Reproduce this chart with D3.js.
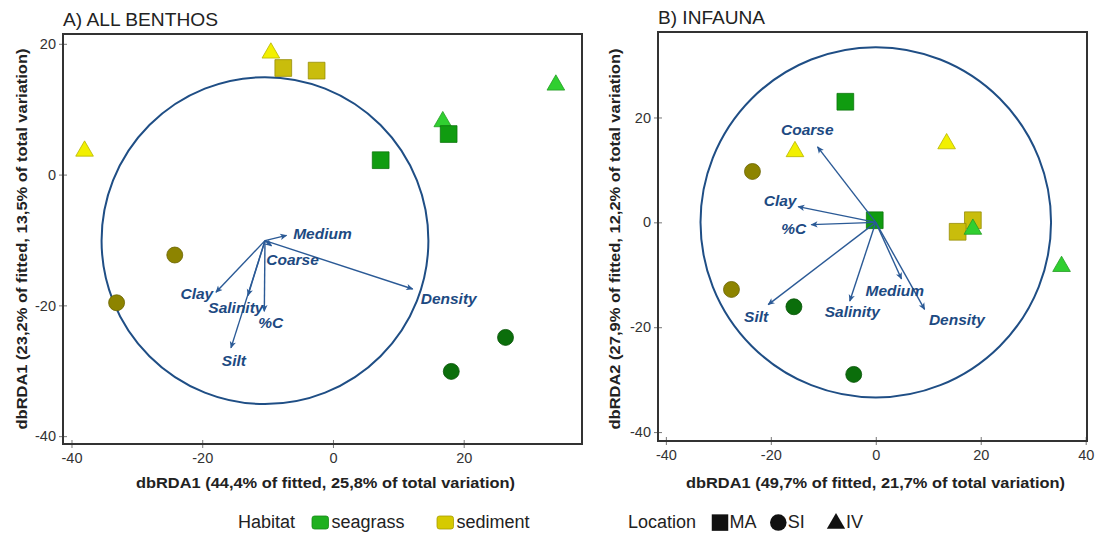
<!DOCTYPE html>
<html>
  <head>
    <meta charset="utf-8">
    <style type="text/css">
      body { margin:0; background:#fff; }
      text { font-family:"Liberation Sans",Arial,Helvetica,sans-serif; }
      .tick line { stroke:#777; stroke-width:1px; }
      .tick text { fill:#333; font-size:14.5px; font-family:"Liberation Sans",Arial,sans-serif; }
      .box { fill:none; stroke:#333; stroke-width:2px; }
      .corr { fill:none; stroke:#1f4e85; stroke-width:2px; }
      .vec { stroke:#2b5a96; stroke-width:1.4px; }
      .vlab { fill:#1d4a82; font-size:15.5px; font-weight:bold; font-style:italic; }
      .atitle { font-size:15px; font-weight:bold; fill:#222; }
      .ptitle { font-size:18px; fill:#222; }
      .leg { font-size:18px; fill:#222; }
    </style>
  </head>
  <body>
    <div id="canvas"></div>

    <script src="https://cdnjs.cloudflare.com/ajax/libs/d3/7.8.5/d3.min.js"></script>
    <script type="text/javascript">

    // ---- data ----
    var habitats = ["seagrass", "sediment"];
    var locations = ["MA", "SI", "IV"];

    var benthosTicksX = [-40, -20, 0, 20];
    var benthosTicksY = [-40, -20, 0, 20];
    var infaunaTicksX = [-40, -20, 0, 20, 40];
    var infaunaTicksY = [-40, -20, 0, 20];

    // A) all benthos samples
    var benthosHabitat  = ["sediment", "sediment", "sediment", "sediment", "seagrass", "seagrass",
                           "seagrass", "seagrass", "sediment", "sediment", "seagrass", "seagrass"];
    var benthosLocation = ["IV", "IV", "MA", "MA", "IV", "IV", "MA", "MA", "SI", "SI", "SI", "SI"];
    var benthosX = [-38.0, -9.5, -7.6, -2.5, 34.1, 16.8, 17.7, 7.3, -24.2, -33.1, 26.4, 18.1];
    var benthosY = [3.6, 18.6, 16.3, 15.9, 13.7, 8.1, 6.2, 2.2, -12.3, -19.6, -24.9, -30.1];

    var benthosVarNames = ["Medium", "Coarse", "Density", "Clay", "Salinity", "%C", "Silt"];
    var benthosVarX = [-7.1, -9.4, 12.2, -17.9, -13.0, -10.5, -15.6];
    var benthosVarY = [-9.3, -10.9, -17.5, -18.0, -18.5, -20.9, -26.5];
    var benthosOrigin = [-10.4, -10.1];
    var benthosRadius = 25;

    // B) infauna samples
    var infaunaHabitat  = ["seagrass", "sediment", "sediment", "sediment", "seagrass", "sediment",
                           "sediment", "seagrass", "seagrass", "sediment", "seagrass", "seagrass"];
    var infaunaLocation = ["MA", "IV", "IV", "SI", "MA", "MA", "MA", "IV", "IV", "SI", "SI", "SI"];
    var infaunaX = [-5.8, -15.4, 13.5, -23.5, -0.2, 18.5, 15.6, 18.5, 35.4, -27.5, -15.6, -4.2];
    var infaunaY = [23.0, 13.5, 15.0, 9.7, 0.4, 0.4, -1.8, -1.3, -8.4, -12.8, -16.1, -29.0];

    var infaunaVarNames = ["Coarse", "Clay", "%C", "Silt", "Salinity", "Medium", "Density"];
    var infaunaVarX = [-11.1, -14.8, -12.3, -20.5, -4.95, 4.9, 9.3];
    var infaunaVarY = [14.4, 3.0, -0.44, -15.7, -15.0, -10.8, -16.6];
    var infaunaOrigin = [0, 0];
    var infaunaRadius = 33.4;

    // ---- styling / layout ----
    var shade = {
      seagrass: { MA: "#109c10", SI: "#0b6e0b", IV: "#30cf30" },
      sediment: { MA: "#c9bd0c", SI: "#8d8400", IV: "#f2f000" }
    };
    var swatch = { seagrass: "#1fb01f", sediment: "#d6ca00" };
    var symbolType = { MA: d3.symbolSquare, SI: d3.symbolCircle, IV: d3.symbolTriangle };
    var symbolSize = { MA: 280, SI: 200, IV: 135 };

    // label placement relative to the arrow tip: [anchor, dx, dy]
    var benthosLabelPos = [["start", 6.6, -1.7], ["middle", 21, 13.2], ["start", 8, 9],
                           ["end", -2.7, 1.3], ["middle", -12.1, 12.3], ["middle", 6.5, 11],
                           ["middle", 2.9, 12.7]];
    var infaunaLabelPos = [["middle", -10.2, -17.3], ["end", -1.6, -5.7], ["end", -5, 4],
                           ["end", 0, 11.7], ["middle", 2.5, 10], ["middle", -6.7, 11.7],
                           ["start", 4.3, 10]];

    var svg = d3.select('#canvas').append('svg')
                .attr('width', 1101)
                .attr('height', 533);

    svg.append('defs').append('marker')
        .attr('id', 'arrowhead')
        .attr('viewBox', '0 0 10 10')
        .attr('refX', 9).attr('refY', 5)
        .attr('markerUnits', 'userSpaceOnUse')
        .attr('markerWidth', 8).attr('markerHeight', 7)
        .attr('orient', 'auto')
      .append('path')
        .attr('d', 'M0,0.5 L10,5 L0,9.5 L2.5,5 Z')
        .attr('fill', '#2b5a96');

    var plain = function (d) { return String(d); };

    var drawPanel = function (p) {
      var x = d3.scaleLinear().domain(p.xDomain).range([p.left, p.right]);
      var y = d3.scaleLinear().domain(p.yDomain).range([p.bottom, p.top]);
      var g = svg.append('g');

      g.append('text').attr('class', 'ptitle')
        .attr('x', p.left).attr('y', p.titleY)
        .attr('textLength', p.titleW).attr('lengthAdjust', 'spacingAndGlyphs')
        .text(p.title);

      g.append('g').attr('transform', 'translate(0,' + (p.bottom - 4) + ')')
        .call(d3.axisBottom(x).tickValues(p.ticksX).tickSize(8).tickPadding(5).tickFormat(plain))
        .call(function (a) { a.select('.domain').remove(); });

      g.append('g').attr('transform', 'translate(' + (p.left + 4) + ',0)')
        .call(d3.axisLeft(y).tickValues(p.ticksY).tickSize(8).tickPadding(3).tickFormat(plain))
        .call(function (a) { a.select('.domain').remove(); });

      g.append('rect').attr('class', 'box')
        .attr('x', p.left).attr('y', p.top)
        .attr('width', p.right - p.left).attr('height', p.bottom - p.top);

      // correlation circle
      var ox = x(p.origin[0]), oy = y(p.origin[1]);
      g.append('ellipse').attr('class', 'corr')
        .attr('cx', ox).attr('cy', oy)
        .attr('rx', x(p.origin[0] + p.radius) - ox)
        .attr('ry', y(p.origin[1] - p.radius) - oy);

      // samples
      g.selectAll('path.pt')
          .data(d3.range(p.px.length))
        .enter().append('path')
          .attr('class', 'pt')
          .attr('transform', function (i) { return 'translate(' + x(p.px[i]) + ',' + y(p.py[i]) + ')'; })
          .attr('d', function (i) {
            return d3.symbol().type(symbolType[p.loc[i]]).size(symbolSize[p.loc[i]])();
          })
          .attr('fill', function (i) { return shade[p.hab[i]][p.loc[i]]; })
          .attr('stroke', function (i) { return d3.color(shade[p.hab[i]][p.loc[i]]).darker(0.8); })
          .attr('stroke-width', 0.8);

      // vectors
      g.selectAll('line.vec')
          .data(p.vn)
        .enter().append('line')
          .attr('class', 'vec')
          .attr('x1', ox).attr('y1', oy)
          .attr('x2', function (d, i) { return x(p.vx[i]); })
          .attr('y2', function (d, i) { return y(p.vy[i]); })
          .attr('marker-end', 'url(#arrowhead)');

      g.selectAll('text.vlab')
          .data(p.vn)
        .enter().append('text')
          .attr('class', 'vlab')
          .attr('text-anchor', function (d, i) { return p.lab[i][0]; })
          .attr('x', function (d, i) { return x(p.vx[i]) + p.lab[i][1]; })
          .attr('y', function (d, i) { return y(p.vy[i]) + p.lab[i][2]; })
          .attr('dy', '0.36em')
          .text(function (d) { return d; });

      // axis titles
      g.append('text').attr('class', 'atitle')
        .attr('text-anchor', 'middle')
        .attr('x', (p.left + p.right) / 2 + 3).attr('y', 488)
        .attr('textLength', 379).attr('lengthAdjust', 'spacingAndGlyphs')
        .text(p.xTitle);

      g.append('text').attr('class', 'atitle')
        .attr('text-anchor', 'middle')
        .attr('transform', 'translate(' + p.yTitleX + ',239) rotate(-90)')
        .attr('textLength', 381).attr('lengthAdjust', 'spacingAndGlyphs')
        .text(p.yTitle);
    };

    drawPanel({
      title: 'A) ALL BENTHOS', titleY: 26, titleW: 155,
      left: 63, right: 582, top: 34, bottom: 444,
      xDomain: [-41.3, 38.1], yDomain: [-41.2, 21.5],
      ticksX: benthosTicksX, ticksY: benthosTicksY,
      hab: benthosHabitat, loc: benthosLocation, px: benthosX, py: benthosY,
      vn: benthosVarNames, vx: benthosVarX, vy: benthosVarY, lab: benthosLabelPos,
      origin: benthosOrigin, radius: benthosRadius,
      xTitle: 'dbRDA1 (44,4% of fitted, 25,8% of total variation)',
      yTitle: 'dbRDA1 (23,2% of fitted, 13,5% of total variation)', yTitleX: 27
    });

    drawPanel({
      title: 'B) INFAUNA', titleY: 24, titleW: 107,
      left: 658, right: 1087, top: 32, bottom: 441,
      xDomain: [-41.5, 40.25], yDomain: [-41.7, 36.3],
      ticksX: infaunaTicksX, ticksY: infaunaTicksY,
      hab: infaunaHabitat, loc: infaunaLocation, px: infaunaX, py: infaunaY,
      vn: infaunaVarNames, vx: infaunaVarX, vy: infaunaVarY, lab: infaunaLabelPos,
      origin: infaunaOrigin, radius: infaunaRadius,
      xTitle: 'dbRDA1 (49,7% of fitted, 21,7% of total variation)',
      yTitle: 'dbRDA2 (27,9% of fitted, 12,2% of total variation)', yTitleX: 620
    });

    // ---- legend ----
    var leg = svg.append('g');
    leg.append('text').attr('class', 'leg').attr('x', 238).attr('y', 528).text('Habitat');
    var habX = [312, 437];
    habitats.forEach(function (h, i) {
      leg.append('rect')
        .attr('x', habX[i]).attr('y', 516).attr('width', 16.5).attr('height', 13).attr('rx', 2.5)
        .attr('fill', swatch[h]).attr('stroke', d3.color(swatch[h]).darker(0.7)).attr('stroke-width', 0.8);
      leg.append('text').attr('class', 'leg').attr('x', habX[i] + 19.5).attr('y', 528).text(h);
    });

    leg.append('text').attr('class', 'leg').attr('x', 628).attr('y', 528).text('Location');
    var locX = [720, 778.3, 836];
    var locSize = [272, 215, 145];
    locations.forEach(function (l, i) {
      leg.append('path')
        .attr('transform', 'translate(' + locX[i] + ',' + (l === 'IV' ? 523.5 : 522.6) + ')')
        .attr('d', d3.symbol().type(symbolType[l]).size(locSize[i])())
        .attr('fill', '#111');
      leg.append('text').attr('class', 'leg').attr('x', locX[i] + (l === 'IV' ? 10 : 9.5)).attr('y', 528).text(l);
    });
    </script>
  </body>
</html>
